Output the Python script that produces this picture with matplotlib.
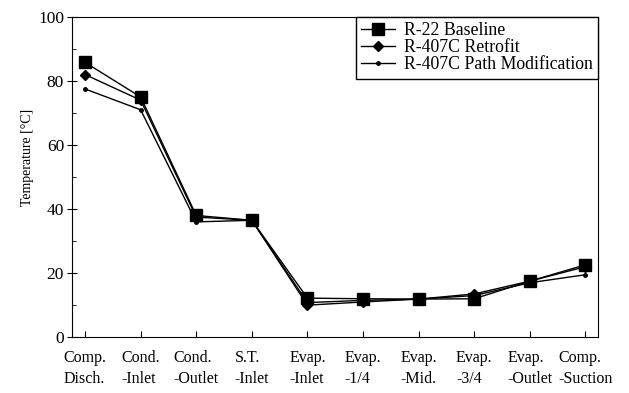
import numpy as np
import matplotlib.pyplot as plt
from matplotlib.ticker import MultipleLocator

# measuring points along the refrigerant path
locations = ['Comp.\nDisch.', 'Cond.\n-Inlet', 'Cond.\n-Outlet', 'S.T.\n-Inlet',
             'Evap.\n-Inlet', 'Evap.\n-1/4', 'Evap.\n-Mid.', 'Evap.\n-3/4',
             'Evap.\n-Outlet', 'Comp.\n-Suction']

r22_baseline = [85.8, 75.0, 38.0, 36.5, 12.2, 12.0, 11.9, 12.0, 17.5, 22.6]
r407c_retrofit = [82.0, 74.0, 37.5, 36.5, 10.0, 11.0, 11.9, 13.5, 17.5, 22.0]
r407c_pathmod = [77.5, 71.0, 36.0, 36.5, 10.8, 11.5, 11.9, 13.0, 17.0, 19.5]

plt.rcParams['font.family'] = ['Liberation Serif', 'DejaVu Serif']

fig = plt.figure(figsize=(6.29, 3.93), dpi=100)
ax = fig.add_axes([0.114, 0.142, 0.837, 0.815])

x = np.arange(len(locations))
ax.plot(x, r22_baseline, color='black', lw=1.0, marker='s', ms=8.5, label='R-22 Baseline')
ax.plot(x, r407c_retrofit, color='black', lw=1.0, marker='D', ms=5.5, label='R-407C Retrofit')
ax.plot(x, r407c_pathmod, color='black', lw=1.0, marker='o', ms=2.5, label='R-407C Path Modification')

ax.set_xlim(-0.24, 9.23)
ax.set_ylim(0, 100)
ax.set_xticks(x)
ax.set_xticklabels(locations, fontsize=11.5, multialignment='left', linespacing=1.45)
ax.yaxis.set_major_locator(MultipleLocator(20))
ax.yaxis.set_minor_locator(MultipleLocator(10))
ax.tick_params(axis='x', which='both', direction='in', length=4, pad=9)
ax.tick_params(axis='y', which='major', direction='inout', length=7, labelsize=12.5, pad=2)
ax.tick_params(axis='y', which='minor', direction='in', length=3)
ax.set_ylabel('Temperature [°C]', fontsize=10, labelpad=6)
ax.yaxis.set_label_coords(-0.072, 0.56)

leg = ax.legend(loc='upper right', borderaxespad=0, fancybox=False, framealpha=1,
                edgecolor='black', fontsize=12.8, handlelength=1.9,
                labelspacing=0.0, borderpad=0.3, handletextpad=0.5)
leg.get_frame().set_linewidth(1.0)

fig.savefig('out.png', dpi=100)
